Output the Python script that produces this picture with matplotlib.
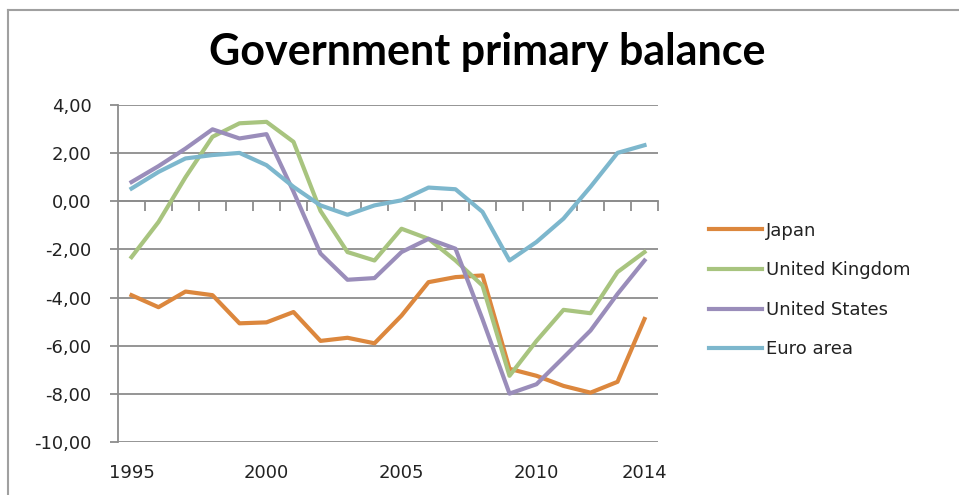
import matplotlib.pyplot as plt
from matplotlib.lines import Line2D

years = list(range(1995, 2015))

japan = [-3.9, -4.4, -3.75, -3.9, -5.07, -5.03, -4.6, -5.8, -5.67, -5.9,
         -4.75, -3.36, -3.15, -3.08, -6.96, -7.25, -7.67, -7.95, -7.5, -4.89]
uk = [-2.32, -0.86, 1.0, 2.68, 3.24, 3.3, 2.47, -0.4, -2.11, -2.46,
      -1.14, -1.56, -2.46, -3.5, -7.25, -5.8, -4.51, -4.65, -2.94, -2.11]
us = [0.8, 1.46, 2.19, 2.99, 2.61, 2.79, 0.4, -2.17, -3.26, -3.19,
      -2.11, -1.56, -1.97, -4.9, -7.99, -7.6, -6.49, -5.37, -3.85, -2.46]
euro = [0.53, 1.22, 1.78, 1.92, 2.01, 1.5, 0.6, -0.17, -0.56, -0.17,
        0.04, 0.57, 0.5, -0.44, -2.46, -1.69, -0.72, 0.6, 2.01, 2.33]

series = [("Japan", japan, "#DC873D"),
          ("United Kingdom", uk, "#A8C47F"),
          ("United States", us, "#9A8DBA"),
          ("Euro area", euro, "#7DB7CD")]

year_labels = [1995, 2000, 2005, 2010, 2014]
y_ticks = [4, 2, 0, -2, -4, -6, -8, -10]

plt.rcParams['font.family'] = ['DejaVu Sans']
grid_col = "#8C8C8C"
txt_col = "#222222"

fig = plt.figure(figsize=(9.59, 4.95), dpi=100)
ax = fig.add_axes([118/959, 1-442/495, 540/959, 337/495])

for name, vals, col in series:
    ax.plot(years, vals, color=col, lw=3.0, label=name, solid_joinstyle='round', zorder=3)

ax.set_xlim(1994.5, 2014.5)
ax.set_ylim(-10, 4)

# horizontal gridlines, zero line doubles as the category axis
ax.set_yticks(y_ticks)
ax.set_yticklabels([("%.2f" % v).replace(".", ",") for v in y_ticks])
ax.grid(axis='y', color=grid_col, lw=1.3, zorder=1)
ax.tick_params(axis='y', length=6, width=1.3, color=grid_col, labelsize=13,
               labelcolor=txt_col, pad=13)

for s in ['top', 'right']:
    ax.spines[s].set_visible(False)
ax.spines['left'].set_color(grid_col)
ax.spines['left'].set_linewidth(1.3)
ax.spines['bottom'].set_position(('data', 0))
ax.spines['bottom'].set_color(grid_col)
ax.spines['bottom'].set_linewidth(1.3)

ax.set_xticks([y + 0.5 for y in years], minor=True)
ax.set_xticks([])
ax.tick_params(axis='x', which='minor', length=7, width=1.3, color=grid_col)

for y in year_labels:
    ax.text(y, -11.27, str(y), ha='center', va='center', fontsize=13, color=txt_col)

fig.text(487/959, 1-65/495, "Government primary balance", ha='center', va='baseline',
         fontsize=31, fontweight='bold', color="black", family='Lato')

handles = [Line2D([0], [0], color=c, lw=3.0) for _, _, c in series]
fig.legend(handles, [n for n, _, _ in series], loc='center left',
           bbox_to_anchor=(693/959, 1-290/495), frameon=False, fontsize=13,
           handlelength=2.9, handletextpad=0.25, labelspacing=1.2,
           labelcolor=txt_col)

# chart border (top and left edges)
fig.add_artist(Line2D([8/959, 1], [1-10/495, 1-10/495], color="#A0A0A0", lw=1.5))
fig.add_artist(Line2D([8/959, 8/959], [0, 1-10/495], color="#A0A0A0", lw=1.5))

plt.savefig("out.png", dpi=100)
